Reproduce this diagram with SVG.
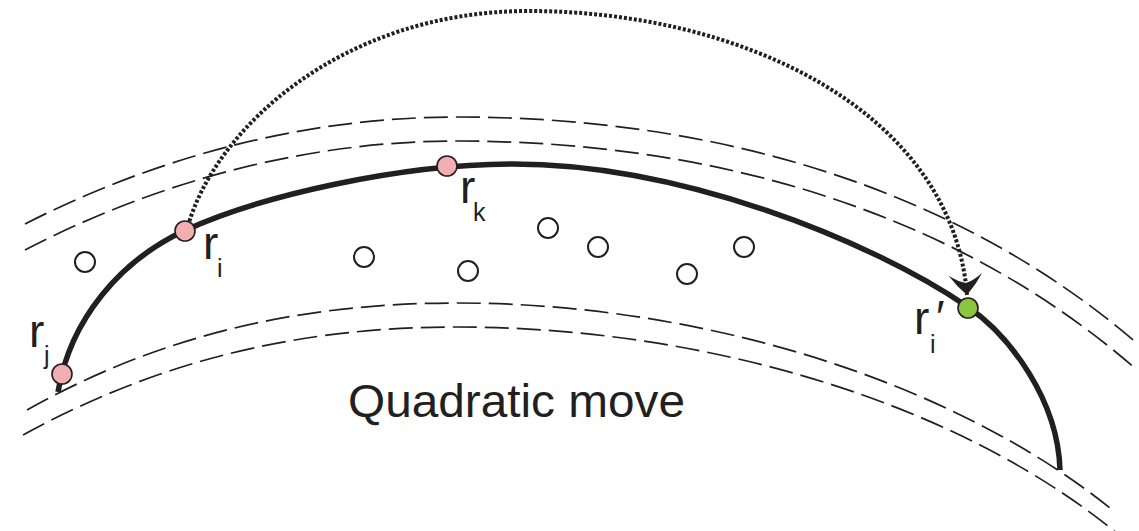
<svg xmlns="http://www.w3.org/2000/svg" width="1139" height="531" viewBox="0 0 1139 531">
<style>
.dash{fill:none;stroke:#231f20;stroke-width:1.7;stroke-dasharray:24 8}
.thick{fill:none;stroke:#231f20;stroke-width:5.5}
.dot{fill:none;stroke:#231f20;stroke-width:4;stroke-dasharray:3 2}
.pink{fill:#f2aeb1;stroke:#231f20;stroke-width:1.6}
.green{fill:#8cc63f;stroke:#231f20;stroke-width:1.6}
.open{fill:#fff;stroke:#231f20;stroke-width:2}
.lbl{font-family:"Liberation Sans",Arial,sans-serif;fill:#231f20;font-size:46px}
.sub{font-size:25px}
</style>
<defs>
<marker id="arr" markerUnits="userSpaceOnUse" markerWidth="40" markerHeight="40" refX="0" refY="0" orient="auto" overflow="visible">
<path d="M0,0 Q-10,-10 -21,-17 Q-14,-8 -12,0 Q-14,8 -21,17 Q-10,10 0,0 Z" fill="#231f20"/>
</marker>
</defs>
<g id="guides">
<path class="dash" d="M25,224 C150,160 300,117 457,117 C720,117 960,190 1139,345"/>
<path class="dash" d="M25,250 C150,185 300,141 457,141 C720,141 960,215 1137,370"/>
<path class="dash" d="M27,410 C160,335 300,303 457,303 C700,303 950,380 1110,508"/>
<path class="dash" d="M23,435 C160,360 300,327 457,327 C700,327 960,400 1125,540"/>
<path id="chain" class="thick" d="M58,392 C70,320 120,260 186,230 C260,196 400,164 513,164 C680,164 870,240 968,307 C1010,336 1058,400 1060,470"/>
</g>
<g id="connectors">
<path id="move" class="dot" d="M188,226 C215,130 340,11 529,11 C740,11 952,110 967,295" marker-end="url(#arr)"/>
</g>
<g id="free">
<circle class="open" cx="85" cy="262" r="10"/>
<circle class="open" cx="364" cy="257" r="10"/>
<circle class="open" cx="468" cy="271" r="10"/>
<circle class="open" cx="548" cy="228" r="10"/>
<circle class="open" cx="598" cy="247" r="10"/>
<circle class="open" cx="687" cy="274" r="10"/>
<circle class="open" cx="744" cy="247" r="10"/>
</g>
<g id="rj">
<circle class="pink" cx="62" cy="374" r="10"/>
<text class="lbl" x="29" y="347">r<tspan class="sub" x="44" y="364">j</tspan></text>
</g>
<g id="ri">
<circle class="pink" cx="185" cy="231" r="10"/>
<text class="lbl" x="203" y="259">r<tspan class="sub" x="217" y="277">i</tspan></text>
</g>
<g id="rk">
<circle class="pink" cx="447" cy="166" r="10"/>
<text class="lbl" x="460" y="203">r<tspan class="sub" x="473" y="221">k</tspan></text>
</g>
<g id="ri-new">
<circle class="green" cx="968" cy="308" r="10"/>
<text class="lbl" x="914" y="334">r<tspan x="936" y="333">′</tspan><tspan class="sub" x="930" y="353">i</tspan></text>
</g>
<g id="caption">
<text class="lbl" x="348" y="417" font-size="47" textLength="337" lengthAdjust="spacingAndGlyphs">Quadratic move</text>
</g>
</svg>
